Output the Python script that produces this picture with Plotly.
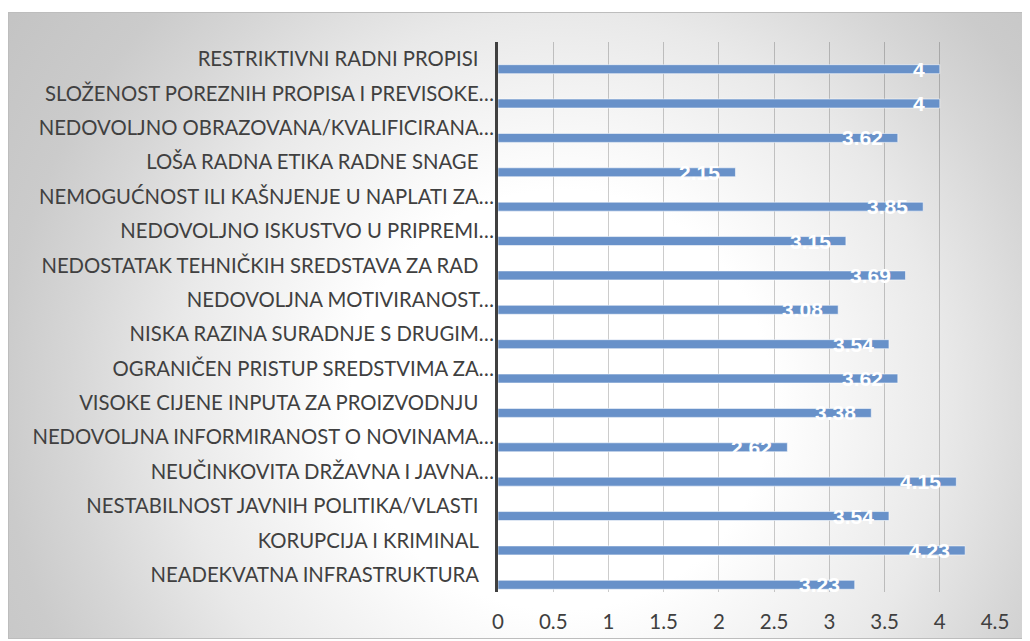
import base64
import plotly.graph_objects as go

NB = "\u00a0"
categories = [
    "RESTRIKTIVNI RADNI PROPISI" + NB * 3,
    "SLOŽENOST POREZNIH PROPISA I PREVISOKE…",
    "NEDOVOLJNO OBRAZOVANA/KVALIFICIRANA…",
    "LOŠA RADNA ETIKA RADNE SNAGE" + NB * 3,
    "NEMOGUĆNOST ILI KAŠNJENJE U NAPLATI ZA…",
    "NEDOVOLJNO ISKUSTVO U PRIPREMI…",
    "NEDOSTATAK TEHNIČKIH SREDSTAVA ZA RAD" + NB * 3,
    "NEDOVOLJNA MOTIVIRANOST…",
    "NISKA RAZINA SURADNJE S DRUGIM…",
    "OGRANIČEN PRISTUP SREDSTVIMA ZA…",
    "VISOKE CIJENE INPUTA ZA PROIZVODNJU" + NB * 3,
    "NEDOVOLJNA INFORMIRANOST O NOVINAMA…",
    "NEUČINKOVITA DRŽAVNA I JAVNA…",
    "NESTABILNOST JAVNIH POLITIKA/VLASTI" + NB * 3,
    "KORUPCIJA I KRIMINAL" + NB * 3,
    "NEADEKVATNA INFRASTRUKTURA" + NB * 3,
]
values = [4, 4, 3.62, 2.15, 3.85, 3.15, 3.69, 3.08, 3.54, 3.62, 3.38, 2.62, 4.15, 3.54, 4.23, 3.23]
x_ticks = [0, 0.5, 1, 1.5, 2, 2.5, 3, 3.5, 4, 4.5]
x_tick_labels = ["0", "0.5", "1", "1.5", "2", "2.5", "3", "3.5", "4", "4.5"]

# the page adds an 8px body margin, so the figure is drawn 8px in from the window edge
W, H = 1022, 633
ML, MR, MT, MB = 490, 35, 34, 49
PW = W - ML - MR
PH = H - MT - MB

# background panel (radial gradient) as an SVG image, figure pixel coordinates
panel_x0, panel_y0, panel_x1, panel_y1 = 0, 4, 1024, 631
pw, ph = panel_x1 - panel_x0, panel_y1 - panel_y0
svg = f'''<svg xmlns="http://www.w3.org/2000/svg" width="{pw}" height="{ph}" viewBox="0 0 {pw} {ph}">
<defs><radialGradient id="g" gradientUnits="userSpaceOnUse" cx="553" cy="388" r="700">
<stop offset="0" stop-color="#ffffff"/>
<stop offset="0.3" stop-color="#ffffff"/>
<stop offset="0.55" stop-color="#e9e9e9"/>
<stop offset="0.7" stop-color="#d6d6d6"/>
<stop offset="0.8" stop-color="#cbcbcb"/>
<stop offset="1" stop-color="#c2c2c2"/>
</radialGradient></defs>
<rect x="0" y="0" width="{pw}" height="{ph}" fill="url(#g)"/>
<rect x="0.5" y="0.5" width="{pw-1}" height="{ph-1}" fill="none" stroke="#bdbdbd" stroke-width="1"/>
</svg>'''
src = "data:image/svg+xml;base64," + base64.b64encode(svg.encode()).decode()


def px2paper_x(px):
    return (px - ML) / PW


def px2paper_y(py):
    return (H - MB - py) / PH


fig = go.Figure()
fig.add_trace(go.Bar(
    x=values, y=categories, orientation="h",
    width=0.26, offset=0.16,
    marker=dict(color="#6891c9", line=dict(color="rgba(255,255,255,0.55)", width=1)),
    hoverinfo="x+y",
))

for c, v in zip(categories, values):
    fig.add_annotation(
        x=v, y=c, xref="x", yref="y", text=f"{v:g}", showarrow=False,
        xanchor="right", yanchor="middle", xshift=-13, yshift=-10,
        font=dict(family="Liberation Sans", size=21, color="white", weight="bold"),
    )

fig.add_layout_image(dict(
    source=src, xref="paper", yref="paper",
    x=px2paper_x(panel_x0), y=px2paper_y(panel_y0),
    sizex=(panel_x1 - panel_x0) / PW, sizey=(panel_y1 - panel_y0) / PH,
    xanchor="left", yanchor="top", sizing="stretch", layer="below",
))

fig.update_layout(
    width=W, height=H, autosize=False,
    margin=dict(l=ML, r=MR, t=MT, b=MB, pad=0),
    paper_bgcolor="white", plot_bgcolor="rgba(0,0,0,0)",
    showlegend=False,
    font=dict(family="Lato", color="#404040"),
    xaxis=dict(
        range=[0, 4.5001], tickvals=x_ticks, ticktext=x_tick_labels,
        showgrid=True, gridcolor="rgba(0,0,0,0.2)", gridwidth=1,
        zeroline=False, showline=False, ticks="", automargin=False,
        tickfont=dict(family="Lato", size=20.5, color="#404040"),
        ticklabelstandoff=15,
    ),
    yaxis=dict(
        type="category", range=[15.5, -0.5], automargin=False,
        showgrid=False, zeroline=False,
        showline=True, linecolor="#404040", linewidth=3,
        ticks="", tickfont=dict(family="Lato", size=20.3, color="#404040"),
        ticklabelstandoff=-3,
    ),
)

fig.write_html("out.html")
